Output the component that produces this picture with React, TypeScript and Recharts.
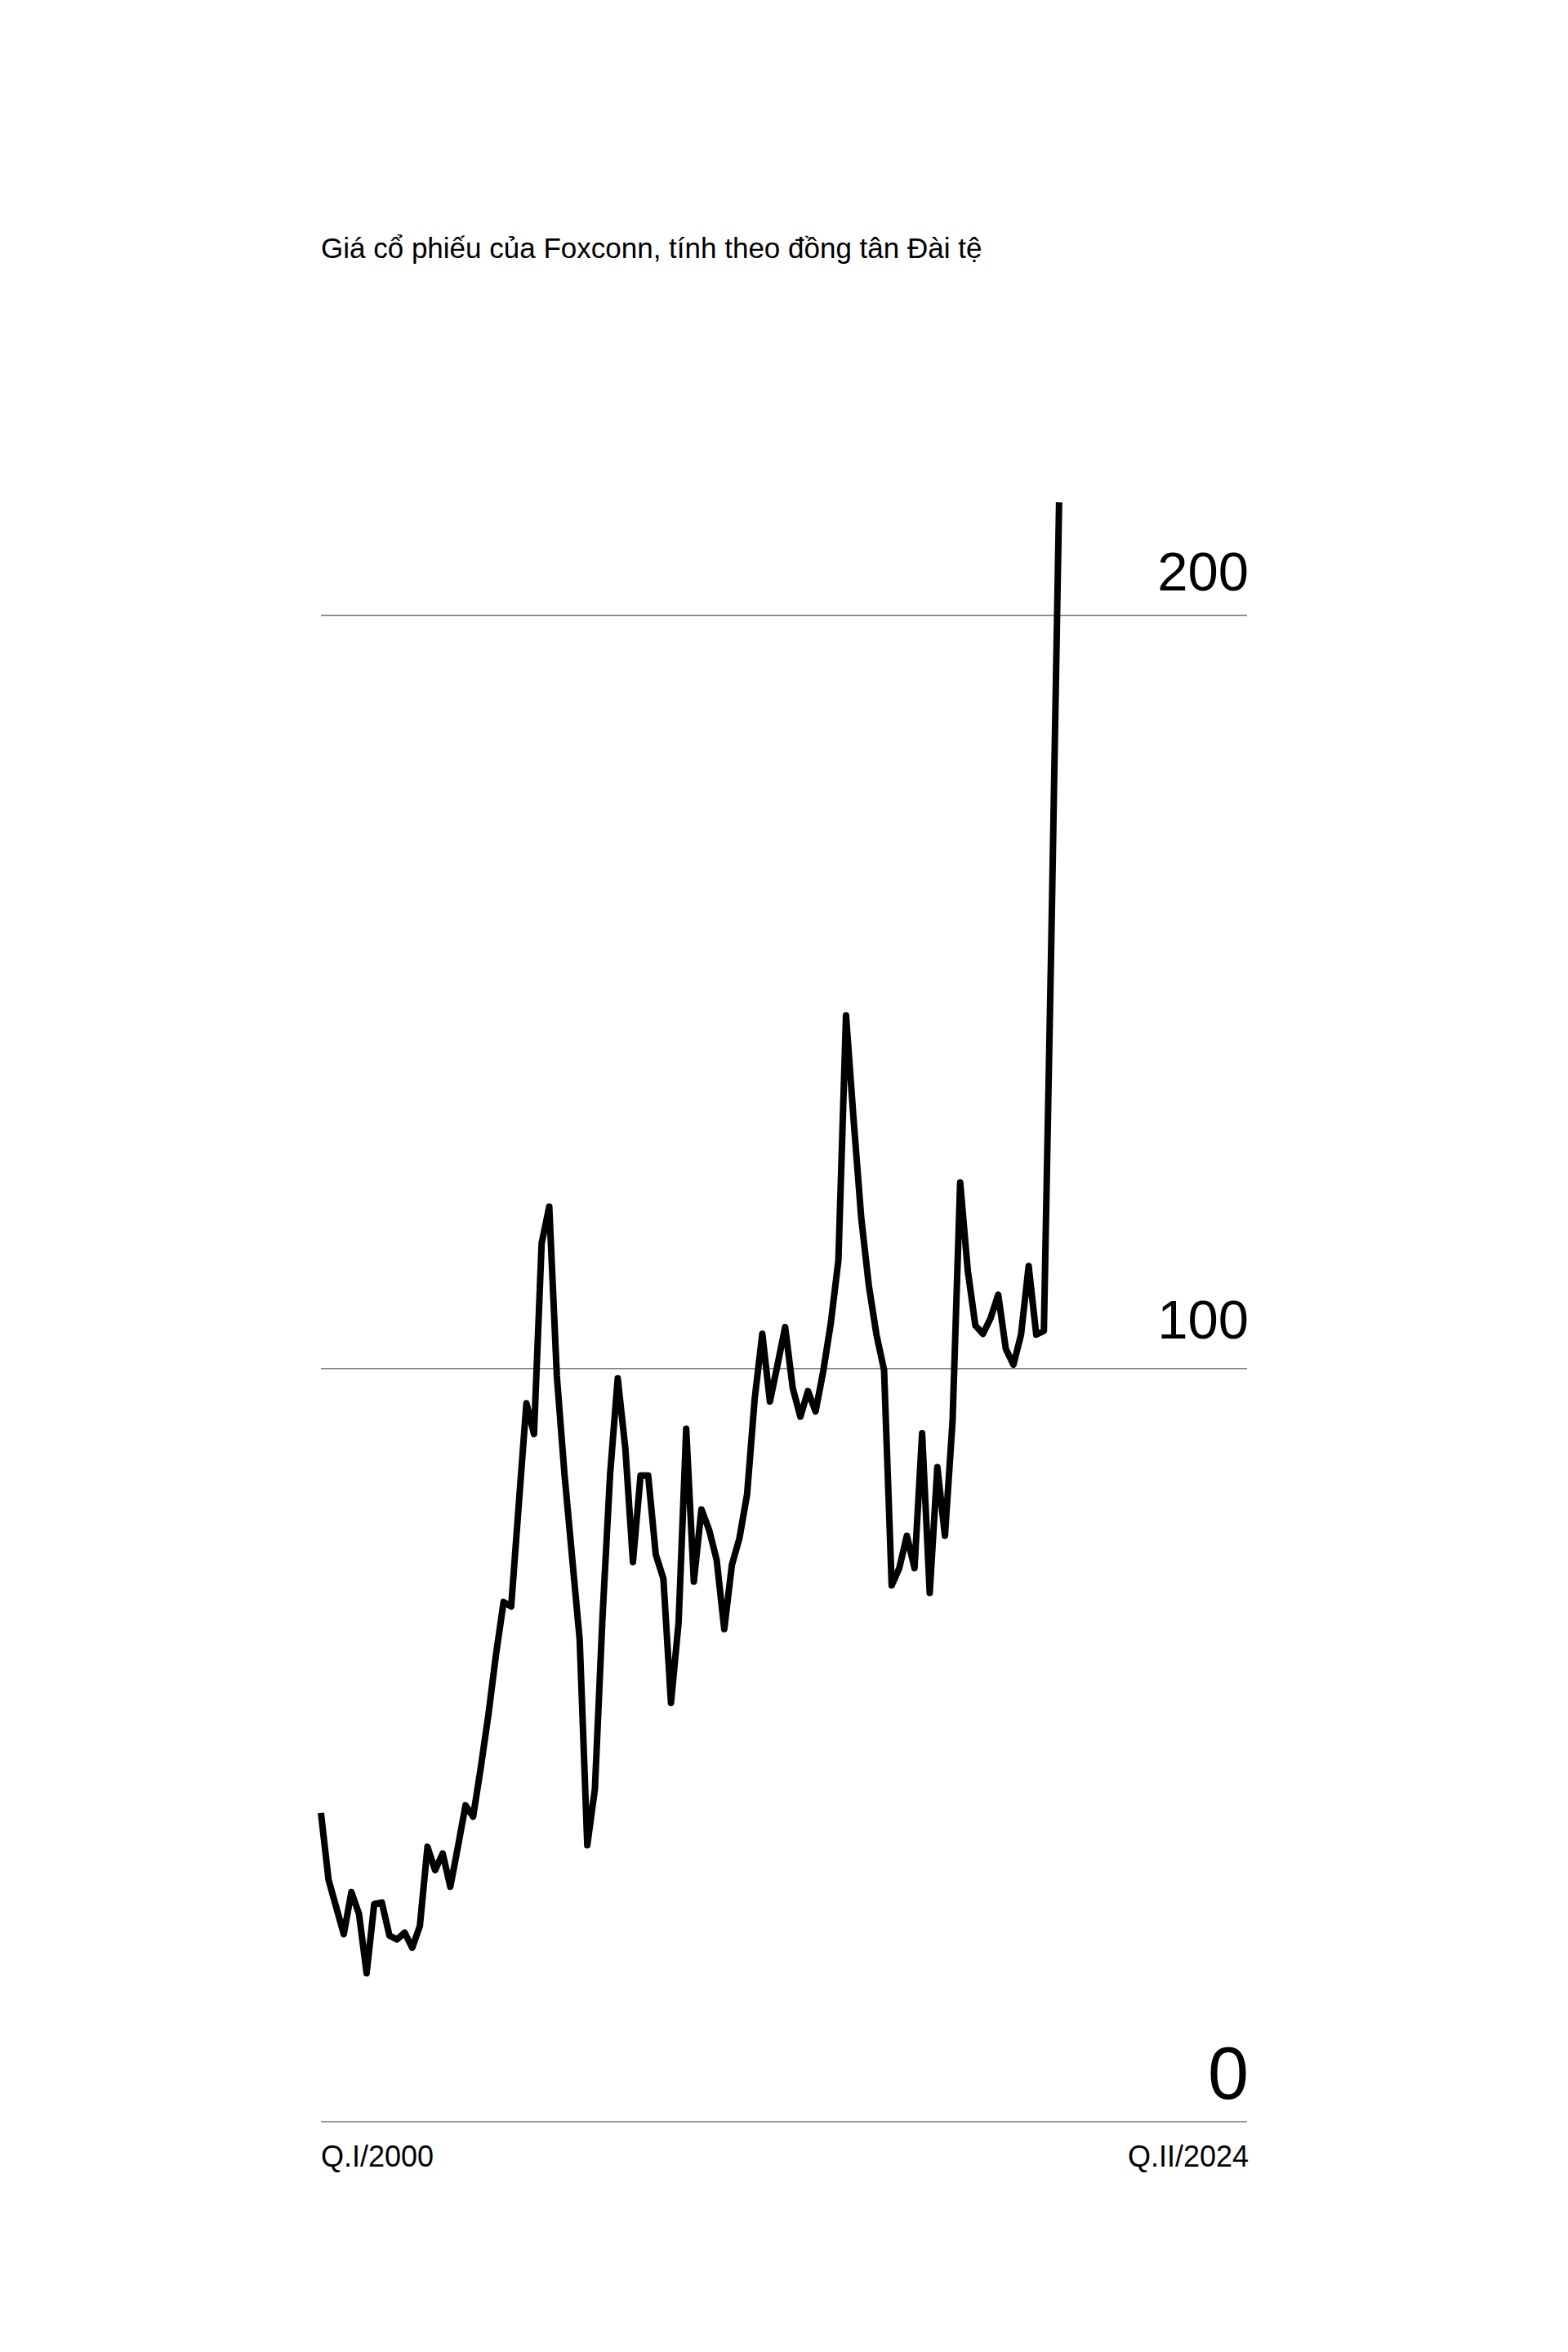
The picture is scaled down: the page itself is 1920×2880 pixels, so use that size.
import { LineChart, Line, XAxis, YAxis, ReferenceLine } from "recharts";

// quarterly closing price, Q1 2000 .. Q2 2024 (TWD)
const prices = [
  41.0, 32.1, 28.5, 24.9, 30.5, 27.6, 19.7, 28.9, 29.1, 24.7,
  24.2, 25.1, 23.1, 26.0, 36.5, 33.4, 35.6, 31.2, 36.5, 42.0,
  40.5, 47.0, 54.0, 62.0, 69.0, 68.4, 82.0, 95.4, 91.3, 116.6,
  121.5, 99.0, 86.0, 75.0, 64.0, 36.7, 44.2, 67.0, 86.0, 98.7,
  89.4, 74.3, 85.8, 85.8, 75.3, 72.1, 55.6, 66.3, 92.0, 71.7,
  81.3, 78.6, 74.6, 65.4, 73.9, 77.5, 83.3, 96.0, 104.6, 95.6,
  100.5, 105.5, 97.4, 93.6, 97.0, 94.3, 99.6, 106.0, 114.4, 146.9,
  133.0, 120.0, 111.0, 104.5, 99.8, 71.2, 73.5, 77.8, 73.5, 91.4,
  70.2, 86.9, 77.8, 93.0, 124.7, 113.0, 105.7, 104.6, 106.7, 109.8,
  102.6, 100.5, 104.5, 113.6, 104.5, 105.0, 158.0, 215.0,
];

const gridValues = [0, 100, 200];
const xEndLabels = ["Q.I/2000", "Q.II/2024"];
const X_MAX = 121.7;

const data = prices.map((price, i) => ({ i, price }));

const FONT = "'Liberation Sans', Arial, sans-serif";

// the zero label is set bigger than the others in the original
const labelStyle: Record<number, { size: number; gap: number }> = {
  0: { size: 90, gap: 28 },
  100: { size: 67, gap: 37 },
  200: { size: 67, gap: 30 },
};

function ValueLabel({ viewBox, value }: any) {
  const { x, y, width } = viewBox;
  const s = labelStyle[value];
  return (
    <text x={x + width + 2} y={y - s.gap} textAnchor="end" fontSize={s.size} fill="#000" fontFamily={FONT}>
      {value}
    </text>
  );
}

function EdgeTick({ x, y, index }: any) {
  return (
    <text
      x={index === 0 ? x : x + 2}
      y={y + 47}
      textAnchor={index === 0 ? "start" : "end"}
      fontSize={36}
      fill="#000"
      fontFamily={FONT}
    >
      {xEndLabels[index]}
    </text>
  );
}

export default function App() {
  return (
    <div style={{ position: "absolute", left: 0, top: 0, width: 1920, height: 2880, background: "#fff" }}>
      <div
        style={{
          position: "absolute",
          left: 393,
          top: 286,
          fontSize: 35,
          lineHeight: "35px",
          fontFamily: FONT,
          color: "#000",
          whiteSpace: "nowrap",
        }}
      >
        Giá cổ phiếu của Foxconn, tính theo đồng tân Đài tệ
      </div>
      <LineChart
        width={1920}
        height={2880}
        data={data}
        margin={{ top: 569, right: 393, bottom: 222, left: 393 }}
      >
        <XAxis
          dataKey="i"
          type="number"
          domain={[0, X_MAX]}
          ticks={[0, X_MAX]}
          axisLine={false}
          tickLine={false}
          height={60}
          tick={<EdgeTick />}
        />
        <YAxis type="number" domain={[0, 220]} hide />
        {gridValues.map((v) => (
          <ReferenceLine
            key={v}
            y={v}
            stroke="#7a7a7a"
            strokeWidth={1.5}
            label={<ValueLabel value={v} />}
          />
        ))}
        <Line
          type="linear"
          dataKey="price"
          stroke="#000"
          strokeWidth={8}
          strokeLinejoin="round"
          dot={false}
          isAnimationActive={false}
        />
      </LineChart>
    </div>
  );
}
